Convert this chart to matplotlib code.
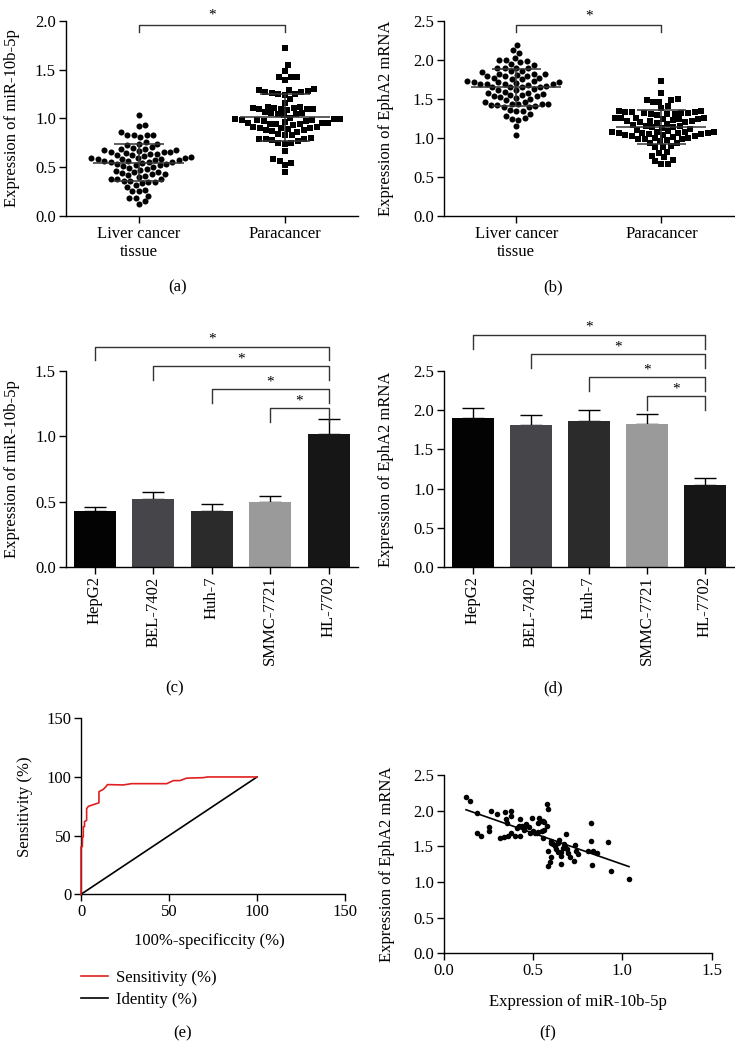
import numpy as np
import matplotlib
matplotlib.use("Agg")
import matplotlib.pyplot as plt
from matplotlib.ticker import FormatStrFormatter
from matplotlib.lines import Line2D

plt.rcParams['font.family'] = ['Liberation Serif', 'DejaVu Serif']
plt.rcParams['font.size'] = 12
plt.rcParams['axes.linewidth'] = 1.0

# liver cancer tissue: paired values (miR-10b-5p, EphA2)
mir_tumor = [0.125, 0.149, 0.187, 0.185, 0.207, 0.256, 0.256, 0.267, 0.297, 0.315,
             0.34, 0.345, 0.347, 0.356, 0.362, 0.377, 0.377, 0.377, 0.40, 0.41,
             0.42, 0.427, 0.427, 0.437, 0.448, 0.461, 0.476, 0.483, 0.496, 0.498,
             0.511, 0.526, 0.53, 0.535, 0.543, 0.549, 0.558, 0.562, 0.576, 0.576,
             0.586, 0.558, 0.586, 0.586, 0.595, 0.599, 0.599, 0.61, 0.623, 0.627,
             0.638, 0.647, 0.655, 0.657, 0.657, 0.67, 0.675, 0.687, 0.688, 0.698,
             0.705, 0.73, 0.735, 0.74, 0.754, 0.806, 0.826, 0.826, 0.828, 0.834,
             0.858, 0.918, 0.937, 1.037, 0.45, 0.52, 0.64, 0.68, 0.60, 0.56]
epha2_tumor = [2.19, 2.13, 1.97, 1.69, 1.65, 1.77, 1.71, 2.00, 1.95, 1.61,
               1.63, 1.98, 1.89, 1.82, 1.65, 2.00, 1.93, 1.68, 1.65, 1.75,
               1.79, 1.89, 1.65, 1.79, 1.73, 1.81, 1.77, 1.69, 1.90, 1.71,
               1.69, 1.70, 1.82, 1.90, 1.86, 1.71, 1.85, 1.73, 1.79, 2.09,
               2.02, 1.61, 1.44, 1.23, 1.28, 1.35, 1.58, 1.53, 1.51, 1.46,
               1.42, 1.59, 1.42, 1.36, 1.25, 1.48, 1.53, 1.67, 1.46, 1.41,
               1.35, 1.30, 1.52, 1.43, 1.39, 1.43, 1.82, 1.58, 1.24, 1.43,
               1.40, 1.56, 1.15, 1.04, 1.76, 1.69, 1.55, 1.50, 1.55, 1.84]

# paracancer tissue
mir_para = [1.72, 1.55, 1.49, 1.42, 1.42, 1.42, 1.39, 1.30, 1.29, 1.29,
            1.28, 1.27, 1.27, 1.26, 1.25, 1.25, 1.24, 1.20, 1.16, 1.12,
            1.12, 1.11, 1.11, 1.11, 1.10, 1.10, 1.10, 1.10, 1.09, 1.06,
            1.05, 1.05, 1.04, 1.04, 1.03, 1.00, 0.99, 0.99, 0.99, 0.98,
            0.98, 0.98, 0.97, 0.97, 0.96, 0.95, 0.95, 0.95, 0.94, 0.94,
            0.94, 0.93, 0.91, 0.91, 0.90, 0.90, 0.90, 0.89, 0.88, 0.88,
            0.87, 0.86, 0.84, 0.83, 0.83, 0.80, 0.79, 0.79, 0.79, 0.78,
            0.77, 0.75, 0.75, 0.74, 0.67, 0.58, 0.56, 0.54, 0.52, 0.45]
epha2_para = [1.73, 1.57, 1.50, 1.49, 1.48, 1.46, 1.46, 1.41, 1.38, 1.34,
              1.34, 1.33, 1.33, 1.33, 1.32, 1.32, 1.32, 1.31, 1.31, 1.30,
              1.29, 1.26, 1.25, 1.25, 1.25, 1.24, 1.24, 1.24, 1.23, 1.22,
              1.21, 1.21, 1.20, 1.20, 1.19, 1.18, 1.17, 1.15, 1.15, 1.14,
              1.14, 1.13, 1.12, 1.10, 1.09, 1.08, 1.07, 1.07, 1.07, 1.06,
              1.06, 1.06, 1.06, 1.05, 1.05, 1.04, 1.04, 1.03, 1.02, 1.01,
              1.00, 1.00, 0.99, 0.98, 0.98, 0.97, 0.96, 0.93, 0.93, 0.89,
              0.88, 0.88, 0.82, 0.81, 0.77, 0.75, 0.72, 0.70, 0.67, 0.67]

groups = ['Liver cancer\ntissue', 'Paracancer']

cell_lines = ['HepG2', 'BEL-7402', 'Huh-7', 'SMMC-7721', 'HL-7702']
mir_cells = [0.43, 0.52, 0.43, 0.50, 1.02]
mir_cells_sd = [0.03, 0.05, 0.05, 0.04, 0.11]
epha2_cells = [1.90, 1.81, 1.87, 1.83, 1.05]
epha2_cells_sd = [0.13, 0.13, 0.14, 0.13, 0.09]
bar_colors = ['#030303', '#46464a', '#2b2b2b', '#9a9a9a', '#161616']

roc_fpr = [0, 0, 0.8, 0.8, 1.3, 1.3, 2.0, 2.0, 3.2, 3.2, 4.2, 10.2, 10.2, 12.7,
           14.2, 15.0, 24.0, 28.8, 48.7, 52.5, 56.2, 60.0, 69.5, 71.8, 100]
roc_tpr = [0, 40.6, 40.6, 49, 49, 57.7, 57.7, 62, 63, 73, 75, 78, 87.5, 89.5,
           91.8, 93.5, 93.2, 94.3, 94.3, 96.9, 96.9, 99, 99.4, 100, 100]
identity = [0, 100]

W, H = 735, 1041
fig = plt.figure(figsize=(W / 100, H / 100), dpi=100)


def add_ax(x0, y0, x1, y1):
    # pixel box (top-left origin) -> figure axes
    return fig.add_axes([x0 / W, 1 - y1 / H, (x1 - x0) / W, (y1 - y0) / H])


def style(ax):
    ax.spines['top'].set_visible(False)
    ax.spines['right'].set_visible(False)
    ax.tick_params(direction='out', length=5, width=1, labelsize=12, pad=2)


def swarm(vals, ppx, ppy, gap=6.6):
    ys = np.asarray(vals, float) * ppy
    placed = []
    xs = np.zeros(len(ys))
    for i in np.argsort(ys):
        y = ys[i]
        near = [(px, py) for px, py in placed if abs(py - y) < gap]
        cands = [0.0]
        for px, py in near:
            dx = np.sqrt(gap ** 2 - (py - y) ** 2)
            cands += [px + dx, px - dx]
        cands.sort(key=abs)
        for c in cands:
            if all((c - px) ** 2 + (y - py) ** 2 >= gap ** 2 - 1e-6 for px, py in near):
                xs[i] = c
                break
        placed.append((xs[i], y))
    return xs / ppx


def dot_panel(ax, data, ymax, ylabel, box, bracket_y, tick_len, star_off):
    style(ax)
    ax.set_xlim(-0.5, 1.5)
    ax.set_ylim(0, ymax)
    ppx = (box[2] - box[0]) / 2.0
    ppy = (box[3] - box[1]) / ymax
    markers = ['o', 's']
    sizes = [19, 15]
    for k, vals in enumerate(data):
        off = swarm(vals, ppx, ppy)
        ax.scatter(k + off, vals, s=sizes[k], marker=markers[k], color='black',
                   linewidths=0, zorder=3)
        m = np.mean(vals)
        sd = np.std(vals, ddof=1)
        ax.hlines(m, k - 0.31, k + 0.31, color='#333333', lw=1.1, zorder=4)
        ax.hlines([m - sd, m + sd], k - 0.17, k + 0.17, color='#333333', lw=1.1, zorder=4)
        ax.vlines(k, m - sd, m + sd, color='#333333', lw=1.1, zorder=4)
    ax.set_xticks([0, 1])
    ax.set_xticklabels(groups)
    ax.set_yticks(np.arange(0, ymax + 0.01, 0.5))
    ax.yaxis.set_major_formatter(FormatStrFormatter('%.1f'))
    ax.set_ylabel(ylabel)
    ax.plot([0, 0, 1, 1], [bracket_y - tick_len, bracket_y, bracket_y, bracket_y - tick_len],
            color='#333333', lw=1, clip_on=False)
    ax.text(0.5, bracket_y + star_off, '*', ha='center', va='bottom', fontsize=11,
            clip_on=False)


def bar_panel(ax, vals, sds, ymax, ylabel, brackets, tick_len):
    style(ax)
    x = np.arange(len(cell_lines))
    ax.errorbar(x, vals, yerr=[np.zeros(len(vals)), sds], fmt='none', ecolor='black',
                elinewidth=1, capsize=8, capthick=1, zorder=1)
    ax.bar(x, vals, width=0.72, color=bar_colors, zorder=2)
    ax.set_xlim(-0.5, 4.5)
    ax.set_ylim(0, ymax)
    ax.set_yticks(np.arange(0, ymax + 0.01, 0.5))
    ax.yaxis.set_major_formatter(FormatStrFormatter('%.1f'))
    ax.set_xticks(x)
    ax.set_xticklabels(cell_lines, rotation=90)
    ax.set_ylabel(ylabel)
    for i, by in enumerate(brackets):
        ax.plot([i, i, 4, 4], [by - tick_len, by, by, by - tick_len], color='#333333',
                lw=1, clip_on=False)
        ax.text((i + 4) / 2, by + tick_len * 0.05, '*', ha='center', va='bottom',
                fontsize=11, clip_on=False)


# (a)
box_a = (65.7, 20.7, 358, 216)
ax_a = add_ax(*box_a)
dot_panel(ax_a, [mir_tumor, mir_para], 2.0, 'Expression of miR-10b-5p', box_a,
          1.96, 0.08, 0.03)
ax_a.yaxis.set_label_coords(-0.155, 0.5)

# (b)
box_b = (443.7, 20.7, 734, 216)
ax_b = add_ax(*box_b)
dot_panel(ax_b, [epha2_tumor, epha2_para], 2.5, 'Expression of EphA2 mRNA', box_b,
          2.45, 0.1, 0.03)
ax_b.yaxis.set_label_coords(-0.17, 0.5)

# (c)
ax_c = add_ax(65.7, 371.3, 358, 566.7)
bar_panel(ax_c, mir_cells, mir_cells_sd, 1.5, 'Expression of miR-10b-5p',
          [1.69, 1.54, 1.366, 1.216], 0.107)
ax_c.yaxis.set_label_coords(-0.155, 0.5)

# (d)
ax_d = add_ax(443.7, 371.3, 734, 566.7)
bar_panel(ax_d, epha2_cells, epha2_cells_sd, 2.5, 'Expression of EphA2 mRNA',
          [2.97, 2.72, 2.43, 2.18], 0.18)
ax_d.yaxis.set_label_coords(-0.17, 0.5)

# (e)
ax_e = add_ax(81, 718.3, 345, 894.3)
style(ax_e)
ax_e.plot(roc_fpr, roc_tpr, color='#e02020', lw=1.2, clip_on=False, zorder=3)
ax_e.plot(identity, identity, color='black', lw=1.2, clip_on=False, zorder=2)
ax_e.set_xlim(0, 150)
ax_e.set_ylim(0, 150)
ax_e.set_xticks([0, 50, 100, 150])
ax_e.set_yticks([0, 50, 100, 150])
ax_e.set_xlabel('100%-specificcity (%)')
ax_e.set_ylabel('Sensitivity (%)')
ax_e.yaxis.set_label_coords(-0.182, 0.5)
ax_e.xaxis.set_label_coords(0.485, -0.22)
handles = [Line2D([], [], color='#e02020', lw=1.2), Line2D([], [], color='black', lw=1.2)]
ax_e.legend(handles, ['Sensitivity (%)', 'Identity (%)'], loc='upper left',
            bbox_to_anchor=(81 / W, 1 - 970 / H), bbox_transform=fig.transFigure,
            frameon=False, borderpad=0, borderaxespad=0, handlelength=1.63,
            handletextpad=0.5, labelspacing=0.36, fontsize=12)

# (f)
ax_f = add_ax(443.7, 775, 711.7, 953.3)
style(ax_f)
ax_f.scatter(mir_tumor, epha2_tumor, s=16, color='black', linewidths=0, zorder=3)
slope, icpt = np.polyfit(mir_tumor, epha2_tumor, 1)
xl = np.array([min(mir_tumor), max(mir_tumor)])
ax_f.plot(xl, slope * xl + icpt, color='black', lw=1.2)
ax_f.set_xlim(0, 1.5)
ax_f.set_ylim(0, 2.5)
ax_f.set_xticks([0, 0.5, 1.0, 1.5])
ax_f.set_yticks(np.arange(0, 2.51, 0.5))
ax_f.xaxis.set_major_formatter(FormatStrFormatter('%.1f'))
ax_f.yaxis.set_major_formatter(FormatStrFormatter('%.1f'))
ax_f.set_xlabel('Expression of miR-10b-5p')
ax_f.set_ylabel('Expression of EphA2 mRNA')
ax_f.yaxis.set_label_coords(-0.18, 0.5)
ax_f.xaxis.set_label_coords(0.5, -0.23)

# panel letters
for lab, px, py in [('(a)', 178, 287), ('(b)', 553, 287), ('(c)', 175, 688),
                    ('(d)', 553, 688), ('(e)', 183, 1033), ('(f)', 548, 1033)]:
    fig.text(px / W, 1 - py / H, lab, ha='center', va='center', fontsize=12)

fig.savefig('out.png', dpi=100)
